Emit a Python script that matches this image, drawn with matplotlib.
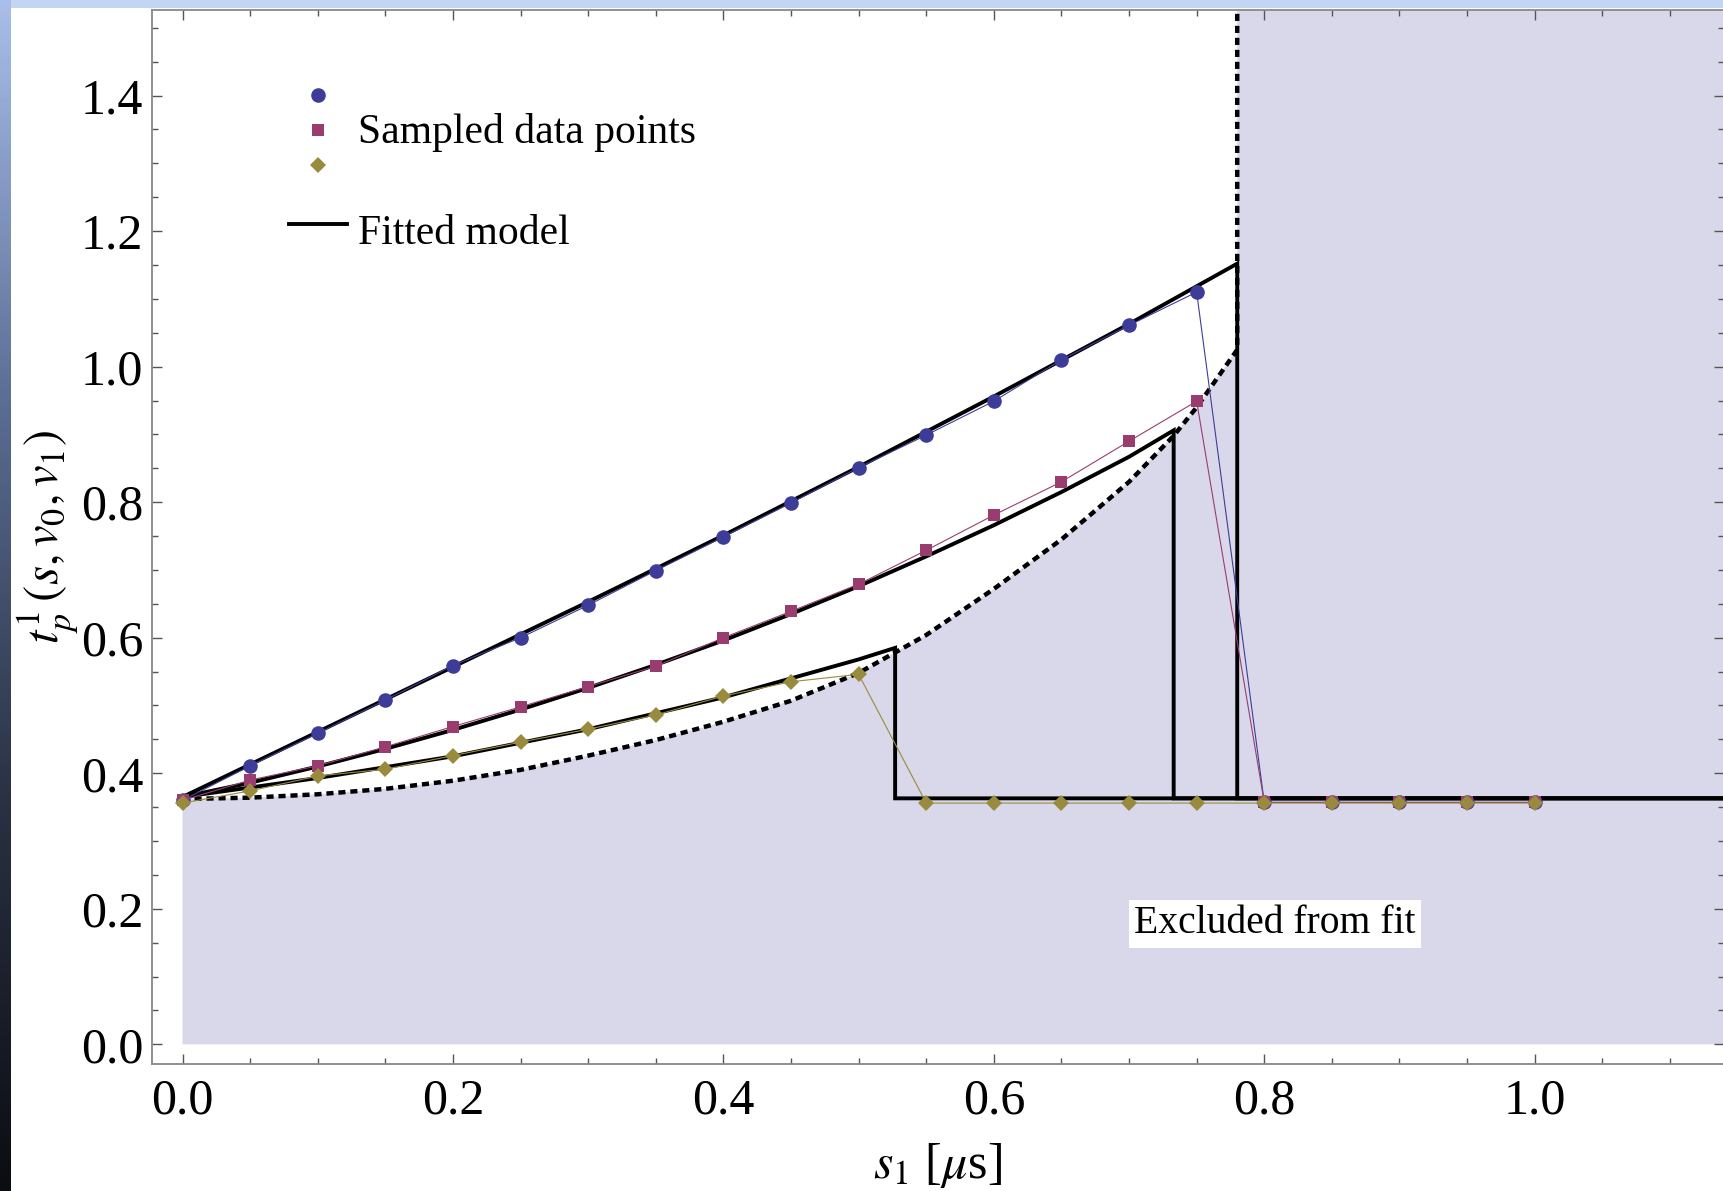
import numpy as np
import matplotlib.pyplot as plt
from matplotlib.legend_handler import HandlerBase
from matplotlib.lines import Line2D
from matplotlib.colors import LinearSegmentedColormap

plt.rcParams['font.family'] = ['Liberation Serif', 'DejaVu Serif']
plt.rcParams['mathtext.fontset'] = 'stix'

# sampled data, s1 in microseconds
s1 = [0.0, 0.05, 0.1, 0.15, 0.2, 0.25, 0.3, 0.35, 0.4, 0.45, 0.5,
      0.55, 0.6, 0.65, 0.7, 0.75, 0.8, 0.85, 0.9, 0.95, 1.0]
t_blue = [0.360, 0.411, 0.459, 0.508, 0.559, 0.600, 0.648, 0.699, 0.749, 0.799, 0.851,
          0.899, 0.949, 1.010, 1.061, 1.110, 0.357, 0.357, 0.357, 0.357, 0.357]
t_purple = [0.360, 0.390, 0.411, 0.439, 0.469, 0.498, 0.528, 0.558, 0.600, 0.639, 0.679,
            0.729, 0.781, 0.830, 0.890, 0.949, 0.357, 0.357, 0.357, 0.357, 0.357]
t_olive = [0.356, 0.374, 0.396, 0.406, 0.426, 0.446, 0.465, 0.486, 0.514, 0.535, 0.546,
           0.356, 0.356, 0.356, 0.356, 0.356, 0.356, 0.356, 0.356, 0.356, 0.356]

# fitted model curves
fit1_x = [0.0, 0.1, 0.2, 0.3, 0.4, 0.5, 0.6, 0.7, 0.78]
fit1_y = [0.365, 0.461, 0.557, 0.653, 0.751, 0.852, 0.956, 1.063, 1.152]
fit2_x = [0.0, 0.05, 0.1, 0.15, 0.2, 0.25, 0.3, 0.35, 0.4, 0.45, 0.5, 0.55, 0.6, 0.65, 0.7, 0.733]
fit2_y = [0.365, 0.386, 0.410, 0.436, 0.464, 0.494, 0.526, 0.560, 0.596, 0.635, 0.676,
          0.720, 0.766, 0.815, 0.867, 0.906]
fit3_x = [0.0, 0.1, 0.2, 0.3, 0.4, 0.45, 0.5, 0.527]
fit3_y = [0.365, 0.393, 0.425, 0.465, 0.512, 0.540, 0.568, 0.585]
fit_base = 0.363

# boundary of the excluded region (dotted)
bound_x = [0.0, 0.05, 0.1, 0.15, 0.2, 0.25, 0.3, 0.35, 0.4, 0.45, 0.5,
           0.55, 0.6, 0.65, 0.7, 0.733, 0.75, 0.78]
bound_y = [0.362, 0.364, 0.369, 0.377, 0.389, 0.405, 0.426, 0.449, 0.476, 0.507, 0.548,
           0.604, 0.672, 0.745, 0.830, 0.898, 0.940, 1.025]
cutoff = 0.78

BLUE = '#3d3d99'
PURPLE = '#993d71'
OLIVE = '#998b3d'
SHADE = '#d8d8ea'

XMIN, XMAX = -0.0228, 1.14
YMIN, YMAX = -0.029, 1.527


class StackedMarkers(HandlerBase):
    def create_artists(self, legend, orig_handle, xdescent, ydescent,
                       width, height, fontsize, trans):
        arts = []
        xc = width / 2 - xdescent
        yc = height / 2 - ydescent
        for h, off in zip(orig_handle, [1, 0, -1]):
            ln = Line2D([xc], [yc + off * 0.84 * fontsize], ls='none',
                        marker=h.get_marker(), markersize=h.get_markersize(),
                        color=h.get_color(), markeredgewidth=0)
            ln.set_transform(trans)
            arts.append(ln)
        return arts


fig = plt.figure(figsize=(17.24, 11.91), dpi=100)

# slide border strips
grad = LinearSegmentedColormap.from_list('edge', ['#a9bfe9', '#5b6e94', '#2a3244', '#0b0d11'])
ax_l = fig.add_axes([0, 0, 11 / 1724, 1])
ax_l.imshow(np.linspace(0, 1, 256).reshape(-1, 1), aspect='auto', cmap=grad)
ax_l.axis('off')
ax_t = fig.add_axes([11 / 1724, 1 - 8 / 1191, 1, 8 / 1191])
ax_t.set_facecolor('#c4d4f3')
ax_t.set_xticks([])
ax_t.set_yticks([])
for s in ax_t.spines.values():
    s.set_visible(False)

ax = fig.add_axes([151.7 / 1724, 127 / 1191, 1 - 151.7 / 1724, (1181.5 - 127) / 1191])

# excluded region
shade_x = np.r_[bound_x, cutoff, XMAX + 0.1]
shade_y = np.r_[bound_y, YMAX + 1, YMAX + 1]
ax.fill_between(shade_x, 0, shade_y, color=SHADE, lw=0, zorder=0)

# dotted boundary
ax.plot(np.r_[bound_x, cutoff], np.r_[bound_y, YMAX + 1], color='black', lw=3.2,
        ls=(0, (1.6, 1.1)), zorder=2)

# fitted model
for fx, fy in [(fit1_x, fit1_y), (fit2_x, fit2_y), (fit3_x, fit3_y)]:
    ax.plot(np.r_[fx, fx[-1], XMAX + 0.1], np.r_[fy, fit_base, fit_base],
            color='black', lw=2.8, solid_joinstyle='miter', zorder=2)

# sampled data
h_b, = ax.plot(s1, t_blue, color=BLUE, lw=0.8, marker='o', ms=10.5, mew=0, zorder=3)
h_p, = ax.plot(s1, t_purple, color=PURPLE, lw=0.8, marker='s', ms=8.5, mew=0, zorder=3)
h_o, = ax.plot(s1, t_olive, color=OLIVE, lw=0.8, marker='D', ms=8.5, mew=0, zorder=3)
h_fit = Line2D([], [], color='black', lw=2.8)

ax.legend([(h_b, h_p, h_o), h_fit], ['Sampled data points', 'Fitted model'],
          handler_map={tuple: StackedMarkers()}, loc='upper left',
          bbox_to_anchor=(0.0873, 0.9113), frameon=False, fontsize=30,
          handlelength=1.4, handleheight=1.6, handletextpad=0.25,
          labelspacing=1.14, borderpad=0, borderaxespad=0)

ax.text(0.808, 0.178, 'Excluded from fit', fontsize=28.5, ha='center', va='center',
        bbox=dict(facecolor='white', edgecolor='none', pad=4), zorder=4)

ax.set_xlim(XMIN, XMAX)
ax.set_ylim(YMIN, YMAX)
ax.set_xticks([0.0, 0.2, 0.4, 0.6, 0.8, 1.0])
ax.set_yticks([0.0, 0.2, 0.4, 0.6, 0.8, 1.0, 1.2, 1.4])
ax.set_xticks(np.arange(0, 1.15, 0.05), minor=True)
ax.set_yticks(np.arange(0, 1.55, 0.05), minor=True)
ax.xaxis.set_major_formatter(plt.FormatStrFormatter('%.1f'))
ax.yaxis.set_major_formatter(plt.FormatStrFormatter('%.1f'))
ax.tick_params(which='both', direction='in', top=True, right=True,
               color='#555555', width=1.0)
ax.tick_params(which='major', length=7, labelsize=36)
ax.tick_params(which='minor', length=4)
ax.tick_params(axis='x', pad=10)
ax.tick_params(axis='y', pad=6)
for s in ax.spines.values():
    s.set_color('#888888')
    s.set_linewidth(1.3)

ax.set_xlabel(r'$s_1$ [$\mu$s]', fontsize=36, labelpad=12)
ax.set_ylabel(r'$t_p^1\,(s,v_{\mathit{0}},v_{\mathit{1}})$', fontsize=35, labelpad=0)

fig.savefig('out.png', dpi=100)
